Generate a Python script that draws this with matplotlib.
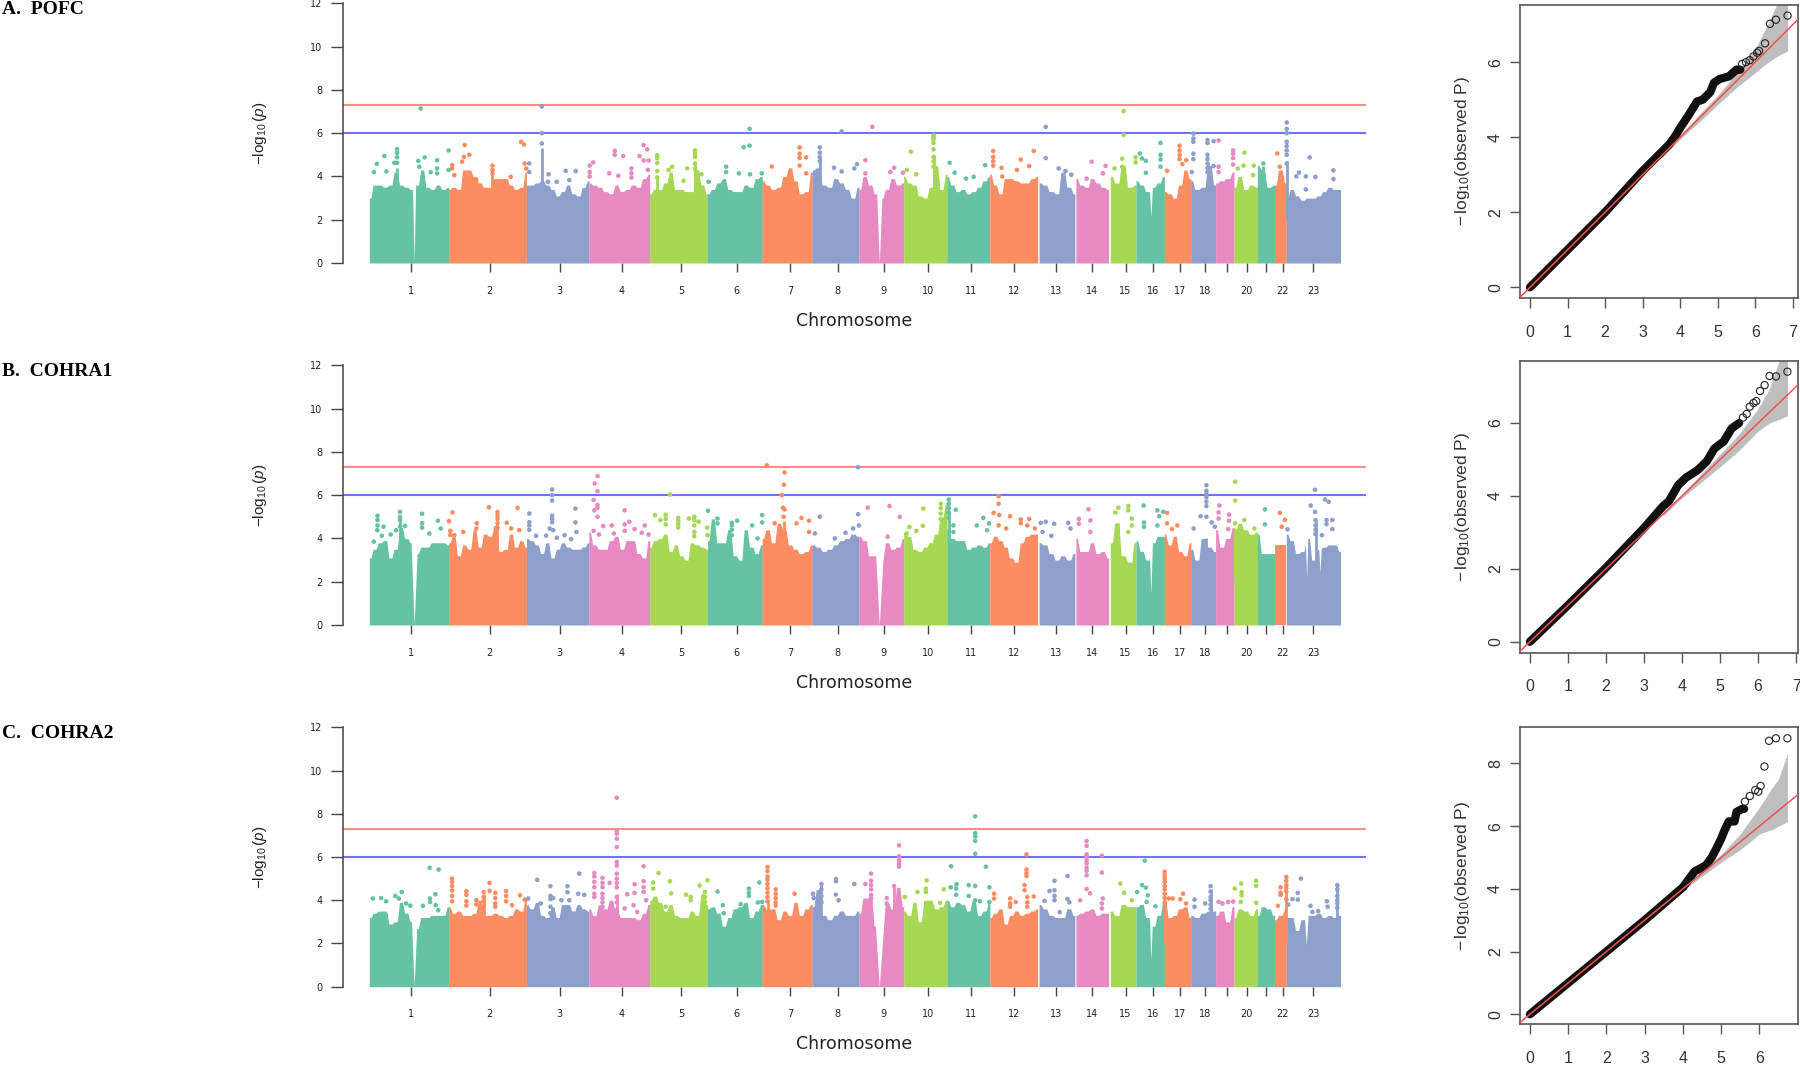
import numpy as np
import matplotlib
matplotlib.use("Agg")
import matplotlib.pyplot as plt

W, H = 1800, 1065

SET2 = ['#66C2A5', '#FC8D62', '#8DA0CB', '#E78AC3', '#A6D854']

# genome position runs from 0 (start of chr 1) to 971 (end of chr 23)
CHROM_STARTS = [0, 79.3, 157.1, 219.6, 280.3, 338.2, 392.8, 442.9, 489.6, 534.4, 577.6, 620.5,
                669.8, 706.6, 741, 766.7, 795, 821.4, 846.3, 864.6, 888, 905.2, 917]
CHROM_ENDS = [79.3, 157.1, 219.6, 280.3, 338.2, 392.8, 442.9, 489.6, 534.4, 577.6, 620.5, 668.3,
              705.4, 739.1, 766.7, 795, 821.4, 846.3, 864.6, 888, 905.2, 917, 971]
TICK_POS = [42.1, 120.3, 190.4, 252.5, 311.8, 367.5, 420.7, 468.5, 514.5, 558.5, 601.7, 644.6,
            687, 722.7, 756.3, 783.5, 811, 835.9, 857.7, 877.3, 896.8, 913.2, 943.8]
TICK_LABELS = ['1', '2', '3', '4', '5', '6', '7', '8', '9', '10', '11', '12', '13', '14', '15',
               '16', '17', '18', '', '20', '', '22', '23']

# top of the solid band, chromosome by chromosome
A_TOPS = [
    [3.0, 3.6, 3.6, 3.5, 3.6, 4.2, 3.6, 3.5, 3.4, 3.6, 4.3, 3.5, 3.4, 3.6, 3.4, 3.5],
    [3.4, 3.5, 3.4, 4.3, 4.3, 4.0, 3.7, 3.5, 3.5, 3.9, 3.9, 3.9, 3.6, 3.4, 3.5, 4.2],
    [3.6, 3.6, 3.7, 3.8, 3.6, 3.4, 3.1, 3.3, 3.6, 3.2, 3.1, 3.5, 3.8],
    [3.7, 3.6, 3.5, 3.3, 3.2, 3.6, 3.3, 3.4, 3.6, 3.5, 3.9, 4.1],
    [3.2, 3.4, 3.4, 3.7, 4.2, 3.4, 3.4, 3.3, 3.3, 4.3, 3.6, 3.2],
    [3.2, 3.4, 3.7, 3.9, 3.4, 3.3, 3.3, 3.6, 3.5, 3.9, 4.0],
    [3.8, 3.6, 3.4, 3.5, 4.0, 4.4, 3.8, 3.2, 3.3, 4.2],
    [4.3, 4.4, 3.6, 3.5, 3.9, 3.7, 3.4, 3.0, 3.5],
    [3.4, 4.0, 3.6, 3.2, 3.0, 3.4, 3.9, 3.6, 3.7],
    [4.0, 3.7, 3.6, 3.1, 3.0, 3.5, 4.5, 3.4, 4.1],
    [4.0, 3.6, 3.3, 3.4, 3.2, 3.3, 3.5, 3.8, 4.0],
    [4.1, 3.6, 3.2, 3.9, 3.9, 3.8, 3.7, 3.7, 3.9, 4.0],
    [3.7, 3.6, 3.3, 3.2, 4.2, 3.5, 3.2],
    [3.9, 3.6, 3.5, 3.9, 3.7, 3.5, 3.4],
    [4.0, 3.7, 4.5, 3.5, 3.6],
    [3.8, 3.6, 3.3, 3.5, 3.7, 4.0],
    [3.3, 3.2, 3.0, 3.6, 4.3, 3.9],
    [3.8, 3.4, 3.5, 4.5, 3.6],
    [3.7, 3.8, 3.9, 4.2],
    [3.5, 4.0, 3.4, 3.6, 3.5],
    [4.5, 4.3, 3.5, 3.6],
    [3.6, 4.3, 3.7],
    [3.0, 3.4, 3.1, 2.9, 3.0, 3.0, 3.1, 3.3, 3.5, 3.4, 3.4],
]
B_TOPS = [
    [3.1, 3.5, 3.8, 3.9, 3.1, 3.5, 4.5, 4.0, 3.8, 3.3, 3.6, 3.6, 3.8, 3.8, 3.8, 3.7],
    [3.8, 4.1, 3.2, 3.7, 3.5, 4.4, 3.6, 4.2, 4.1, 4.6, 3.4, 3.5, 4.2, 3.6, 3.9, 3.6],
    [4.0, 3.9, 3.7, 3.3, 3.8, 3.1, 3.5, 3.8, 3.6, 3.5, 3.5, 3.6, 3.8],
    [4.3, 3.7, 3.5, 3.5, 3.9, 4.1, 3.5, 3.9, 3.9, 3.3, 3.1, 3.9],
    [3.6, 3.9, 4.0, 4.2, 3.4, 3.7, 3.2, 3.0, 3.8, 3.7, 3.6, 3.5],
    [3.9, 4.9, 3.8, 3.8, 4.4, 3.2, 3.0, 4.4, 3.6, 3.3, 3.7],
    [4.0, 4.4, 3.8, 4.7, 4.4, 3.7, 3.5, 3.3, 3.4, 3.7],
    [3.7, 3.6, 3.4, 3.5, 3.7, 3.9, 4.0, 4.2, 4.1],
    [4.1, 3.9, 3.2, 3.2, 3.0, 3.8, 3.5, 3.6, 4.0],
    [4.3, 4.1, 3.5, 3.4, 3.6, 3.8, 4.2, 5.0, 5.6],
    [4.4, 4.0, 3.9, 3.9, 3.5, 3.6, 3.7, 3.6, 3.8],
    [3.8, 4.1, 3.9, 3.6, 3.1, 2.9, 3.8, 4.1, 4.2, 4.2],
    [3.8, 3.7, 3.3, 3.0, 3.2, 3.0, 3.3],
    [4.0, 3.4, 3.4, 3.8, 3.3, 3.4, 3.1],
    [3.8, 4.7, 3.2, 2.9, 3.8],
    [3.9, 3.4, 3.0, 3.8, 4.1, 4.1],
    [4.2, 3.7, 4.1, 3.4, 3.2, 3.8],
    [3.5, 3.0, 4.0, 3.6, 3.4],
    [4.4, 3.6, 4.0, 4.5],
    [4.3, 4.7, 4.4, 4.2, 4.3],
    [4.2, 3.3, 3.3, 3.3],
    [3.7, 3.7, 3.7],
    [4.2, 3.9, 3.3, 3.4, 4.0, 3.0, 3.5, 3.6, 3.7, 3.7, 3.4],
]
C_TOPS = [
    [3.2, 3.4, 3.5, 3.5, 2.9, 3.0, 3.9, 3.4, 3.0, 2.7, 3.2, 3.2, 3.3, 3.3, 3.3, 3.7],
    [3.7, 3.4, 3.5, 3.3, 3.3, 3.4, 4.0, 3.3, 3.3, 3.4, 3.3, 3.2, 3.3, 3.6, 3.5, 4.1],
    [3.8, 3.6, 3.9, 3.3, 3.2, 3.7, 3.2, 3.8, 3.8, 3.5, 3.8, 3.6, 3.5],
    [3.6, 3.3, 3.8, 3.6, 4.0, 3.5, 3.2, 3.2, 3.2, 3.1, 3.4, 3.8],
    [4.0, 4.2, 3.9, 3.5, 3.8, 3.3, 3.2, 3.2, 3.5, 3.3, 4.3, 3.8],
    [3.6, 3.7, 3.4, 2.8, 3.2, 3.6, 3.7, 3.9, 3.2, 3.5, 3.8],
    [3.8, 3.6, 3.6, 3.1, 3.5, 3.3, 3.9, 3.3, 3.6, 3.8],
    [3.7, 4.5, 3.3, 3.1, 3.3, 3.5, 3.3, 3.3, 3.5],
    [3.4, 4.1, 4.1, 2.8, 2.5, 3.9, 3.6, 4.6, 3.7],
    [3.5, 3.3, 3.9, 3.0, 4.0, 4.0, 3.6, 3.7, 4.0],
    [4.0, 3.7, 3.9, 3.8, 3.5, 4.0, 3.3, 3.5, 3.9],
    [3.2, 3.4, 3.6, 2.9, 3.3, 3.5, 3.3, 3.4, 3.5, 3.6],
    [3.8, 3.6, 3.3, 3.2, 3.2, 3.6, 3.3],
    [3.3, 3.4, 3.5, 3.6, 3.3, 3.4, 3.4],
    [3.5, 3.3, 3.8, 3.7, 3.7],
    [3.7, 3.8, 3.2, 2.8, 3.3, 3.9],
    [4.0, 3.2, 3.3, 3.6, 3.7, 3.2],
    [3.3, 3.2, 3.4, 3.5, 3.5],
    [3.3, 3.5, 3.0, 3.7],
    [3.2, 3.6, 3.5, 3.3, 3.6],
    [3.3, 3.7, 3.6, 3.3],
    [3.1, 3.3, 3.6],
    [3.2, 3.2, 2.6, 3.1, 3.3, 3.3, 3.4, 3.2, 3.3, 3.2, 3.3],
]

# centromere style dips: position, half width, lowest value
A_GAPS = [(44.8, 1.5, 0), (510, 2.6, 0), (781.6, 1.5, 2.1)]
B_GAPS = [(44.8, 3.0, 0), (510, 3.6, 0), (781.6, 1.5, 1.4), (937.3, 1.2, 2.1), (950.7, 1.2, 2.4)]
C_GAPS = [(44.8, 2.6, 0), (510, 3.8, 0), (781.6, 1.3, 1.2), (937, 1.8, 1.9)]

# narrow solid columns: position, top
A_TOWERS = [(172.5, 5.3), (325.7, 4.6), (450.5, 4.9), (564.2, 5.0), (838.2, 4.6), (917.4, 4.7),
            (894.1, 4.5), (287.9, 4.0), (27.8, 4.4), (123.2, 4.3)]
B_TOWERS = [(30.7, 4.8), (128.2, 4.6), (579.5, 5.2), (571.5, 4.9), (414.3, 4.8), (837.1, 4.0),
            (946.2, 4.8), (749, 4.7), (865.8, 4.5)]
C_TOWERS = [(247.5, 4.3), (233.2, 3.6), (398.2, 4.0), (452.1, 4.7), (501.8, 4.0), (524.8, 4.6),
            (114.3, 4.3), (795.4, 4.0), (841.3, 4.5), (917, 4.6), (968, 4.7)]

# single points above the band: position, then the values at that position
A_HITS = [
    (51.4, 7.14), (27.8, 5.26, 5.09, 4.88, 4.63), (15, 4.94), (7.5, 4.58), (4.6, 4.2), (17.1, 4.23),
    (25, 4.63), (49, 4.72), (55.3, 4.88), (50, 4.45), (67.8, 4.75, 4.37, 4.14), (61.4, 4.2),
    (79.3, 5.2, 4.3), (82.8, 4.52, 4.37), (85, 4.06), (95.3, 5.45), (94.6, 4.9), (100, 5.0), (92.8, 4.68),
    (107, 3.86), (123.2, 4.5, 4.3, 4.14), (141.4, 3.98), (151.8, 5.6), (154.6, 5.48), (155.3, 4.6),
    (160, 4.6, 4.2), (157, 4.37), (172.5, 7.23, 6.0, 5.52), (179.3, 4.1), (178.6, 3.75), (187.5, 3.75),
    (196.4, 4.26), (206.4, 4.25), (200, 3.83), (220.4, 4.5, 4.2, 4.0), (223.9, 4.65), (245.4, 5.18, 5.0),
    (253.9, 4.95), (240, 4.14), (249, 4.03), (262.1, 4.37, 4.15, 3.95), (274.3, 5.45, 4.74), (277.9, 5.25),
    (270.3, 4.94), (279.3, 4.74), (278.6, 4.3), (287.9, 4.98, 4.85, 4.62, 4.25, 3.95), (302.8, 4.45),
    (299.3, 4.3), (325.7, 5.2, 5.05, 4.9, 4.6, 4.35), (317.9, 4.37), (332.2, 4.1), (339.3, 3.75), (314.3, 3.8),
    (380.3, 6.2, 5.42), (374.3, 5.35), (356.8, 4.45, 4.2), (369.6, 4.14), (380.7, 4.1), (392.5, 4.14),
    (402.5, 4.46), (430.3, 5.34, 5.05, 4.85, 4.5), (436.8, 4.88, 4.14), (450.5, 5.34, 5.1, 4.9, 4.7),
    (464.7, 4.4), (472.4, 6.08, 4.23), (487.7, 4.57), (485, 4.37), (496.1, 4.75, 4.14), (503, 6.29),
    (524.8, 4.4), (521, 4.2), (533.6, 4.17), (541.6, 5.14), (537.4, 4.3), (547, 4.1),
    (564.2, 5.9, 5.8, 5.7, 5.55, 5.25, 4.9, 4.7, 4.45), (580.3, 4.63), (585.3, 4.17), (596.7, 3.9),
    (604.4, 3.98), (615.9, 4.52), (623.9, 5.17, 4.9, 4.7, 4.5), (632.3, 4.4), (651.5, 4.78), (647.6, 4.3),
    (664.5, 5.18), (659.9, 4.48), (633, 4), (676.4, 6.29, 4.85), (689.4, 4.37), (696.2, 4.25), (702, 4.08),
    (722.3, 4.68), (736.4, 4.49), (733.7, 4.14), (717.3, 3.9), (754.4, 7.02, 5.92), (752.9, 4.82, 4.45),
    (745.2, 4.37), (770.5, 5.06), (766.3, 4.88, 4.65), (772.8, 4.83), (776.6, 4.72, 4.17),
    (791.2, 5.55, 5.0, 4.78, 4.45), (797.7, 4.26), (810.3, 5.42, 5.2, 5.0, 4.8), (816.8, 4.75), (813, 4.57),
    (822.5, 4.2), (824.1, 5.98, 5.75, 5.6, 5.05, 4.8), (838.2, 5.68, 5.55, 5.0, 4.8, 4.6, 4.4, 4.2),
    (844.3, 5.63, 4.48), (849.3, 5.66, 4.45, 4.2), (863.9, 5.2, 5.05, 4.85, 4.55), (875, 5.1), (868.5, 4.37),
    (874.2, 4.5), (884.5, 4.5), (883.8, 4.06), (894.1, 4.6), (907.9, 5.06), (910.5, 4.45),
    (917.4, 6.49, 6.2, 6.0, 5.6, 5.4, 5.2, 5.0, 4.6), (940.4, 4.88), (929.7, 4.18), (927, 4),
    (936.6, 4, 3.4), (946.1, 3.98), (964.1, 4.28, 3.88),
]
B_HITS = [
    (8.2, 5.05, 4.85, 4.6), (8, 4.38), (14.3, 4.54), (12.5, 4.12), (4.6, 3.85), (21.4, 4.18),
    (30.7, 5.23, 5.0, 4.85, 4.55), (35.7, 4.58), (26.8, 4.38), (32.1, 4.08), (52.8, 5.14, 4.7, 4.5), (60, 4.23),
    (68.6, 4.82), (71.4, 4.46), (79.6, 4.8), (81, 4.35, 4.15), (83.2, 5.2), (85, 4.15), (93.9, 4.3),
    (107.1, 4.46), (107.5, 4.7), (119.6, 5.44), (128.2, 5.22, 5.05, 4.9, 4.7, 4.5), (137.5, 4.72), (141.8, 4.46),
    (148.2, 5.41), (150, 4.38), (160, 5.15, 4.75, 4.6, 4.4), (166.8, 4.12), (176.8, 4.13),
    (182.8, 6.26, 6.0, 5.75, 5.05, 4.9, 4.75), (180.3, 4.46), (183.9, 4.38), (187.5, 4.03), (195.3, 4.15),
    (201.8, 3.97), (206.1, 5.38, 4.74), (207.1, 4.3), (228.2, 6.88, 6.18, 5.55, 5.42, 5.0), (225.4, 6.54),
    (224.3, 5.78, 4.35), (225, 5.3), (233.9, 4.57), (229.6, 4.18), (242.5, 4.6), (244.6, 4.23),
    (255.4, 5.3, 4.65, 4.35), (260, 4.77), (265.3, 4.43), (275.4, 4.6), (272.5, 4.26), (279.3, 4.18),
    (285.7, 5.08), (291, 4.85), (296.4, 5.1, 4.9, 4.65), (308.9, 4.95, 4.8, 4.65, 4.5), (300.7, 6.03),
    (319.6, 4.92), (325, 5.0, 4.85, 4.6, 4.3, 4.1), (329.3, 4.77), (338.6, 5.28), (337.8, 4.5), (338.2, 4.15),
    (348.2, 4.92, 4.7), (362.5, 4.72, 4.6, 4.4, 4.15), (367.9, 4.82), (382.8, 4.6), (388.2, 4),
    (392.8, 5.08, 4.74), (397.5, 7.38), (415.3, 7.05, 5.34), (414.6, 6.48), (412.5, 6.0), (413.6, 5.42),
    (414.3, 5.0), (405.4, 4.7), (427.2, 4.7), (432.2, 4.95), (439.8, 4.82, 4.3), (450.5, 5.0), (445.6, 4.23),
    (488.8, 7.29, 5.12), (489.6, 4.6), (498.4, 5.42), (483.8, 4.46), (476.2, 4.26), (465.5, 4),
    (520.2, 5.5), (530.5, 5.0), (518.3, 4.08), (553.9, 5.38), (553.5, 4.58), (540.1, 4.53), (547, 4.35),
    (537.4, 4.23), (571.5, 5.6, 5.4, 5.15, 4.9), (579.5, 5.8, 5.6, 5.4, 5.2, 4.95), (586.4, 5.33),
    (584.1, 4.6, 4.3), (607.5, 4.6), (614, 4.95), (619.7, 4.7), (617.8, 4.38), (629.3, 5.95, 5.6, 4.6),
    (624.3, 5.18), (630, 5.08), (640.8, 5.03), (651.5, 4.88, 4.7), (659.9, 4.9), (636.9, 4.46), (658, 4.6),
    (665.6, 4.46), (671.4, 4.72), (676.4, 4.77), (684.8, 4.68), (698.9, 4.72), (701.2, 4.46), (673.3, 4.3),
    (682.1, 4.12), (719.2, 5.35), (709.6, 4.9, 4.68), (721.1, 4.83, 4.3), (749, 5.42), (759, 5.5, 5.3, 4.3),
    (774.3, 5.52), (746, 5.2), (747.9, 4.6), (762.5, 4.92, 4.6), (774.7, 4.74, 4.54), (788.1, 5.3, 4.6),
    (793.8, 5.23), (790, 5.03), (797.7, 5.18, 4.7), (808, 4.6), (802.6, 4.43),
    (837.1, 6.46, 6.2, 6.05, 5.9, 5.7, 5.5, 5.0), (831.3, 5.03), (842.4, 4.74), (824.4, 4.46), (845.5, 4.54),
    (865.8, 6.62, 5.75, 4.7), (850.1, 5.52), (849.3, 5.2, 4.92), (859.7, 5.1, 4.82), (858.9, 4.43), (875, 4.85),
    (885, 4.46), (895.6, 5.34, 4.65), (910.5, 5.18), (915.5, 4.86), (918.2, 4.42), (912.5, 4.54),
    (945.8, 6.25, 5.23), (941.5, 5.52), (955.7, 5.8), (959.5, 5.69), (957.2, 4.85, 4.66), (963, 4.85, 4.43),
    (946.2, 4.85, 4.6, 4.4, 4.2), (952.7, 4.15),
]
C_HITS = [
    (3.6, 4.08), (11.8, 4.1), (16.8, 3.95), (26, 4.2), (32.5, 4.38), (29.6, 4.08), (36.8, 3.85), (41, 3.75),
    (60.3, 5.5), (69.3, 5.42), (66.1, 4.28), (60.7, 4.08, 3.92), (53.6, 3.74), (66.4, 3.77), (68.9, 3.54),
    (82.8, 5.0, 4.85, 4.65, 4.45, 4.2, 3.95), (97.1, 4.42, 4.25, 3.95, 3.75), (107.1, 4.0, 3.8), (120.3, 4.8, 4.43),
    (126, 4.34, 4.1, 3.85, 3.7), (114.3, 4.38, 4.15, 3.95, 3.7, 3.45), (136.8, 4.42, 4.2, 3.95), (142.8, 3.77),
    (150.7, 4.23), (155.4, 4.03), (158.9, 4.08), (167.9, 4.94), (181.1, 4.65, 4.2, 4.05, 3.7, 3.4), (183.9, 4.1),
    (198.2, 4.65, 4.37), (192.1, 4), (200, 4), (210, 5.23), (208.9, 4.3), (215, 4.25), (171.4, 3.85),
    (225, 5.26, 5.1, 4.85, 4.6, 4.3, 4.15), (233.2, 5.03, 4.8, 4.6, 4.3, 4.1, 3.9, 3.7), (240.3, 4.8),
    (247.5, 8.74, 7.23, 7.08, 6.85, 6.46, 5.77, 5.6, 5.23, 5, 4.8, 4.6, 4.15, 3.9, 3.55),
    (274.3, 5.57, 4.88, 4.6, 4.38), (265.3, 4.74, 4.34), (257.9, 4.28), (276.8, 4), (264.3, 3.77), (255.3, 3.62),
    (267.9, 3.46), (289.3, 5.26), (283.9, 4.82, 4.54), (300.7, 4.88), (301.8, 4.32), (316.8, 4.26),
    (321.4, 4.15, 4), (330.3, 4.68), (338.2, 4.92), (335.7, 4.38, 4.15, 3.92), (296.4, 3.7), (348.2, 4.4),
    (353.6, 3.77), (354.3, 3.4), (371.4, 3.82), (379.6, 4.54, 4.35, 4.2), (390, 4.82), (388.6, 3.9), (392.8, 3.92),
    (398.2, 5.54, 5.35, 5.1, 4.95, 4.75, 4.55, 4.35, 4.15, 3.95), (406.4, 4.5, 4.3, 4.1, 3.9, 3.75),
    (425.3, 4.3), (443.7, 4.3), (444.4, 4.1), (452.1, 4.75, 4.5, 4.2, 3.9), (466.6, 4.98, 4.88, 4.26),
    (485, 4.75), (469.3, 4), (501.8, 5.23, 4.9, 4.7, 4.5, 4.25, 4.1), (496.1, 4.75), (710.8, 4),
    (529.8, 6.54, 6.03, 5.85, 5.7, 5.55), (535.5, 4.15), (517.5, 4.1, 3.85), (524.8, 4.66), (557.3, 4.92),
    (556.6, 4.54, 4.38), (548.1, 4.38), (574.5, 4.5), (570.7, 3.88), (581.8, 5.57), (581.4, 4.6),
    (587.2, 4.74), (586.8, 4.54, 4.25), (599.4, 4.7, 4.2), (605.9, 7.88, 7.1, 6.95, 6.74, 6.15, 4.66, 4),
    (616.6, 5.55), (620.1, 4.6, 3.92), (610.5, 3.95), (624.7, 4.3, 4.08), (657.2, 6.12, 5.42, 5.25, 5.12),
    (655.3, 4.7, 4.46), (658, 4.15, 3.9, 3.7), (664.5, 4.18), (640.8, 4.08, 3.85, 3.7), (646.5, 3.92),
    (685.2, 4.9, 4.46, 4.2, 4), (680.2, 4.43), (675.2, 3.97), (698.2, 5.12, 4.06), (700.1, 3.9), (690.5, 3.45),
    (717.3, 6.74, 6.52, 6.12, 6.0, 5.85, 5.7, 5.5, 5.35, 5.15, 4.52), (720.7, 4.32), (732.6, 6.06, 5.28, 3.85, 3.62),
    (733.4, 4.08), (751, 4.77), (754.8, 4.34), (767.8, 4.38), (762.5, 4), (775.5, 5.83), (772.8, 4.7),
    (776.6, 4.58), (778.5, 4.23), (786.2, 3.72), (777.4, 3.92), (795.4, 5.32, 5.15, 5.0, 4.85, 4.65, 4.5, 4.3, 4.1, 3.9),
    (799.6, 4.08), (803.4, 4.08), (813.7, 4.3), (811, 4.05), (816.8, 3.85), (825.2, 4.03, 3.7),
    (841.3, 4.65, 4.4, 4.15, 4, 3.8, 3.6), (835.9, 3.85), (849.3, 3.92), (853.2, 3.85), (858.9, 3.92), (863.9, 3.94),
    (865.4, 4.54), (871.9, 4.77), (872.3, 4.38, 4.23), (886.8, 4.9, 4.66, 3.88), (871.5, 3.92), (908.6, 3.74),
    (911.3, 4.6, 4.35, 4.25), (917, 5.08, 4.9, 4.7, 4.55, 4.4, 4.05), (919, 3.8), (931.6, 5), (928.5, 4.34, 4.03),
    (923.2, 4.05), (941.2, 3.74), (943.1, 3.46), (948.8, 3.5), (957.6, 3.95), (958.4, 3.7),
    (968, 4.7, 4.5, 4.2, 4, 3.85, 3.65),
]

# QQ plots: the dense run of points, the separate points in the tail, the grey band
A_QQ_X = [0, 1, 2, 3, 3.5, 3.7, 3.85, 4, 4.2, 4.45, 4.6, 4.8, 4.9, 5.05, 5.3, 5.5, 5.6]
A_QQ_Y = [0, 1, 2, 3.1, 3.6, 3.8, 4.0, 4.25, 4.55, 4.95, 5.0, 5.2, 5.45, 5.55, 5.62, 5.8, 5.8]
A_TAIL_X = [5.65, 5.75, 5.85, 5.95, 6.05, 6.1, 6.26, 6.39, 6.55, 6.86]
A_TAIL_Y = [5.95, 6.0, 6.05, 6.15, 6.25, 6.3, 6.5, 7.02, 7.13, 7.24]
A_BAND_X = [3.5, 4, 4.5, 5, 5.5, 6, 6.3, 6.57, 6.86]
A_BAND_HI = [3.55, 4.05, 4.6, 5.12, 5.7, 6.35, 6.95, 7.53, 8.4]
A_BAND_LO = [3.45, 3.95, 4.4, 4.87, 5.32, 5.72, 5.97, 6.15, 6.3]

B_QQ_X = [0, 1, 2, 3, 3.5, 3.65, 3.9, 4.1, 4.4, 4.65, 4.85, 5.1, 5.3, 5.5]
B_QQ_Y = [0, 1, 2.03, 3.12, 3.72, 3.85, 4.3, 4.5, 4.7, 4.95, 5.3, 5.5, 5.85, 6.0]
B_TAIL_X = [5.6, 5.7, 5.78, 5.88, 5.95, 6.05, 6.17, 6.3, 6.47, 6.77]
B_TAIL_Y = [6.15, 6.25, 6.45, 6.55, 6.6, 6.88, 7.04, 7.29, 7.28, 7.41]
B_BAND_X = [3.5, 4, 5, 5.5, 6, 6.3, 6.55, 6.77]
B_BAND_HI = [3.55, 4.05, 5.15, 5.7, 6.4, 6.95, 7.71, 8.4]
B_BAND_LO = [3.45, 3.95, 4.8, 5.25, 5.78, 6.0, 6.1, 6.2]

C_QQ_X = [0, 1, 2, 3, 4, 4.3, 4.6, 4.75, 4.88, 5.0, 5.1, 5.2, 5.35, 5.4, 5.55, 5.6]
C_QQ_Y = [0, 1, 2, 3, 4.05, 4.55, 4.75, 5.0, 5.3, 5.6, 5.9, 6.15, 6.15, 6.45, 6.55, 6.55]
C_TAIL_X = [5.62, 5.75, 5.89, 5.97, 6.03, 6.13, 6.25, 6.43, 6.73]
C_TAIL_Y = [6.78, 6.96, 7.15, 7.1, 7.28, 7.9, 8.72, 8.8, 8.8]
C_BAND_X = [4, 5, 5.5, 6, 6.35, 6.5, 6.73]
C_BAND_HI = [4.05, 5.1, 5.75, 6.6, 7.26, 7.5, 8.32]
C_BAND_LO = [3.95, 4.85, 5.25, 5.75, 5.9, 6.0, 6.14]


def px_axes(fig, left, top, right, bottom):
    return fig.add_axes([left / W, 1 - bottom / H, (right - left) / W, (bottom - top) / H])


def manhattan(ax, tops, gaps, towers, hits):
    for i in range(23):
        x = np.arange(CHROM_STARTS[i], CHROM_ENDS[i] + 0.2, 0.2)
        knots = np.linspace(CHROM_STARTS[i], CHROM_ENDS[i], len(tops[i]))
        # flat clumps with steep sides, not a smooth ridge
        idx = np.abs(x[:, None] - knots).argmin(axis=1)
        y = np.asarray(tops[i])[idx]
        y = np.convolve(np.pad(y, 5, mode='edge'), np.ones(11) / 11, mode='valid')
        for center, half, low in gaps:
            d = np.abs(x - center)
            y = np.where(d < half, low + (y - low) * d / half, y)
        ax.fill_between(x, 0, y, color=SET2[i % 5], lw=0, zorder=2)

    for pos, top in towers:
        c = SET2[np.searchsorted(CHROM_ENDS, pos) % 5]
        ax.vlines(pos, 2, top, color=c, lw=2, zorder=2)

    hx, hy, hc = [], [], []
    for row in hits:
        for val in row[1:]:
            hx.append(row[0])
            hy.append(val)
            hc.append(SET2[np.searchsorted(CHROM_ENDS, row[0]) % 5])
    ax.axhline(7.3, color='#FF8A8A', lw=1.5, zorder=1)
    ax.axhline(6, color='#7272FF', lw=1.5, zorder=1)
    ax.scatter(hx, hy, s=11, c=hc, linewidths=0, zorder=3)

    ax.set_xlim(-26.4, 996.7)
    ax.set_ylim(0, 12)
    for s in ['top', 'right', 'bottom']:
        ax.spines[s].set_visible(False)
    ax.spines['left'].set_color('#444444')
    ax.spines['left'].set_linewidth(1.1)
    ax.set_yticks([0, 2, 4, 6, 8, 10, 12])
    ax.set_xticks(TICK_POS)
    ax.set_xticklabels(TICK_LABELS)
    ax.tick_params(axis='y', length=8.6, width=1, color='#444444', pad=6, labelsize=7, labelcolor='#222222')
    ax.tick_params(axis='x', length=6.4, width=1, color='#444444', pad=10, labelsize=7, labelcolor='#222222')
    ax.set_ylabel(r'$-\log_{10}(p)$', fontsize=11, color='#222222')
    ax.yaxis.set_label_coords(-0.072, 0.5)
    ax.set_xlabel('Chromosome', fontsize=12.5, color='#222222', va='center')
    ax.xaxis.set_label_coords(0.4995, -0.222)


def qq(ax, qx, qy, tx, ty, bx, hi, lo, xlim, ylim, xticks, yticks):
    ax.fill_between(bx, lo, hi, color='#BEBEBE', lw=0, zorder=1)
    ax.plot(qx, qy, color='#111111', lw=6, solid_capstyle='round', solid_joinstyle='round', zorder=2)
    ax.scatter(tx, ty, s=27, facecolors='none', edgecolors='#222222', linewidths=0.8, zorder=3)
    ax.plot([-1, 10], [-1, 10], color='#F05050', lw=1.1, zorder=4)
    ax.set_xlim(*xlim)
    ax.set_ylim(*ylim)
    ax.set_xticks(xticks)
    ax.set_yticks(yticks)
    for s in ax.spines.values():
        s.set_color('#555555')
        s.set_linewidth(1.2)
    ax.tick_params(axis='x', length=7.2, width=1, color='#555555', pad=12, labelsize=11.5, labelcolor='#333333')
    ax.tick_params(axis='y', length=7.2, width=1, color='#555555', pad=5, labelsize=11.5, labelcolor='#333333')
    for t in ax.get_yticklabels():
        t.set_rotation(90)
        t.set_va('center')
    ax.set_ylabel(r'$-\,\mathregular{log_{10}(observed\ P)}$', fontsize=12.5, color='#333333')
    ax.yaxis.set_label_coords(-0.172, 0.5)


plt.rcParams['font.family'] = ['DejaVu Sans']
plt.rcParams['mathtext.fontset'] = 'custom'
plt.rcParams['mathtext.rm'] = 'Liberation Sans'
plt.rcParams['mathtext.it'] = 'Liberation Sans:italic'
plt.rcParams['mathtext.bf'] = 'Liberation Sans:bold'

fig = plt.figure(figsize=(W / 100, H / 100), dpi=100)

man_rows = [(3.3, 263, A_TOPS, A_GAPS, A_TOWERS, A_HITS),
            (365.3, 625, B_TOPS, B_GAPS, B_TOWERS, B_HITS),
            (727.3, 986.7, C_TOPS, C_GAPS, C_TOWERS, C_HITS)]
for top, bottom, tops, gaps, towers, hits in man_rows:
    ax = px_axes(fig, 342.9, top, 1366, bottom)
    manhattan(ax, tops, gaps, towers, hits)

plt.rcParams['font.family'] = ['Liberation Sans']
ax = px_axes(fig, 1520, 4.7, 1797.7, 298)
qq(ax, A_QQ_X, A_QQ_Y, A_TAIL_X, A_TAIL_Y, A_BAND_X, A_BAND_HI, A_BAND_LO,
   (-0.266, 7.13), (-0.284, 7.53), range(8), [0, 2, 4, 6])
ax = px_axes(fig, 1520, 360.7, 1797.7, 652.7)
qq(ax, B_QQ_X, B_QQ_Y, B_TAIL_X, B_TAIL_Y, B_BAND_X, B_BAND_HI, B_BAND_LO,
   (-0.26, 7.04), (-0.30, 7.71), range(8), [0, 2, 4, 6])
ax = px_axes(fig, 1520, 726.7, 1797.7, 1024.3)
qq(ax, C_QQ_X, C_QQ_Y, C_TAIL_X, C_TAIL_Y, C_BAND_X, C_BAND_HI, C_BAND_LO,
   (-0.26, 7.0), (-0.32, 9.17), range(7), [0, 2, 4, 6, 8])

for label, y in [('A.  POFC', 10), ('B.  COHRA1', 372), ('C.  COHRA2', 734)]:
    fig.text(0.001, 1 - y / H, label, family='Liberation Serif', weight='bold', fontsize=14,
             va='center', ha='left', color='black')

fig.savefig('out.png', dpi=100)
